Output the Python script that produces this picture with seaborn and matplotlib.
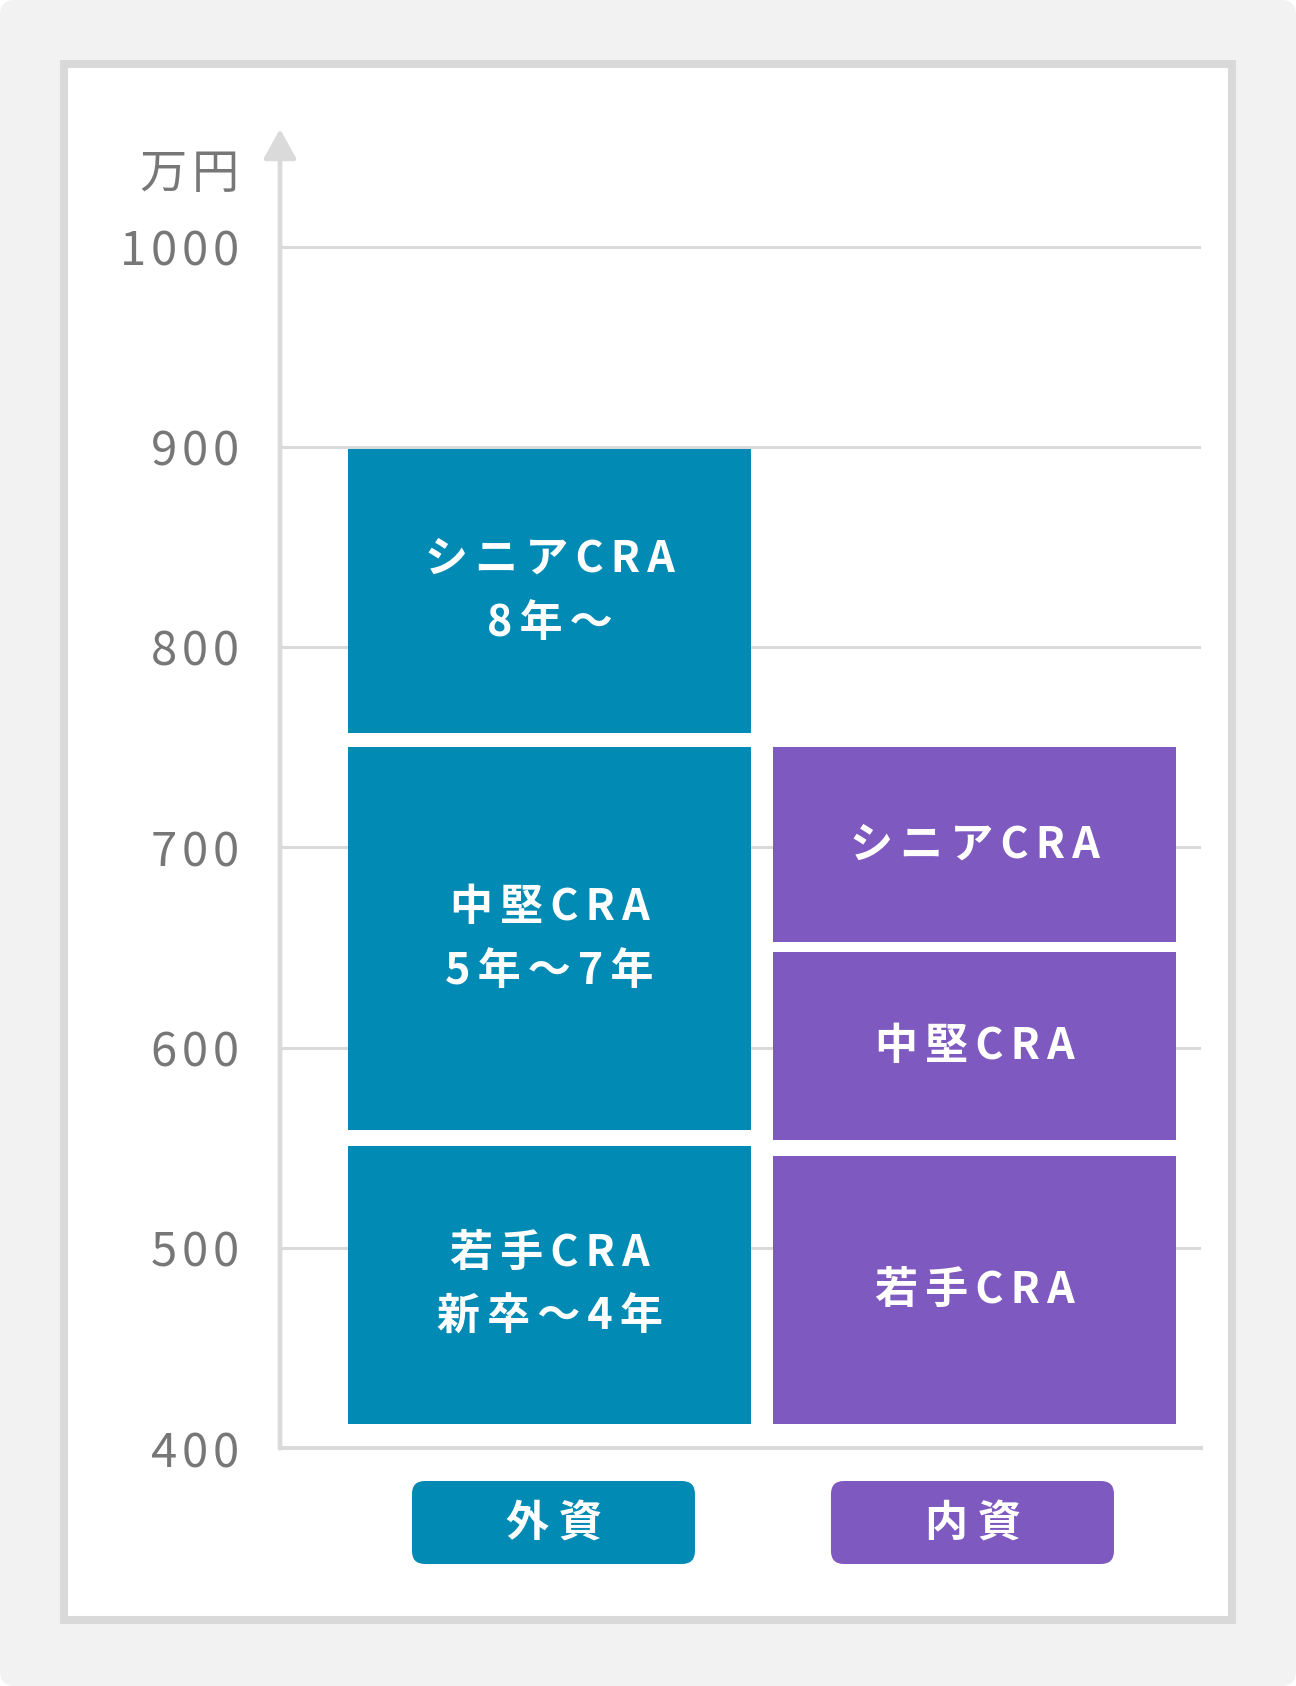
import matplotlib
matplotlib.use("Agg")
import matplotlib.pyplot as plt
import seaborn as sns
from matplotlib.patches import FancyBboxPatch, Rectangle

# データ (万円)
groups = ['外資', '内資']
gaishi_low = [412, 559, 757]
gaishi_high = [551, 750, 899]
gaishi_labels = ['若手CRA\n新卒〜4年', '中堅CRA\n5年〜7年', 'シニアCRA\n8年〜']
naishi_low = [412, 554, 653]
naishi_high = [546, 648, 750]
naishi_labels = ['若手CRA', '中堅CRA', 'シニアCRA']
yticks = [400, 500, 600, 700, 800, 900, 1000]
unit_label = '万円'

TEAL = '#018bb4'
PURPLE = '#7e59c0'
GRID = '#dadada'
TICK = '#777777'

sns.set_style("white")
plt.rcParams['font.family'] = ['Noto Sans CJK JP', 'DejaVu Sans']


def spaced(s, sp='\u2006'):
    # 字間を少し広げる (CJKフォントに無い空白は DejaVu Sans で描かれる)
    return '\n'.join(sp.join(line) for line in s.split('\n'))


W, H = 1296, 1686
fig = plt.figure(figsize=(W / 100, H / 100), dpi=100)
fig.patch.set_facecolor('white')

# 背景とパネル (ピクセル単位 -> インチ)
def px(x, y_top):
    return x / 100, (H - y_top) / 100

fig.add_artist(FancyBboxPatch((0, 0), W / 100, H / 100,
                              boxstyle='round,pad=0,rounding_size=0.15',
                              transform=fig.dpi_scale_trans,
                              fc='#f2f2f2', ec='none', zorder=-10))
x0, y0 = px(64, 1620)
fig.add_artist(Rectangle((x0, y0), (1232 - 64) / 100, (1620 - 64) / 100,
                         transform=fig.dpi_scale_trans,
                         fc='white', ec='#d9d9d9', lw=5.8, zorder=-9))

# 軸の配置
ymax = 1003
ppu = 2.003  # px per 万円
ax_bottom = 1448.3
ax_top = ax_bottom - (ymax - 400) * ppu
ax = fig.add_axes([280 / W, (H - ax_bottom) / H, 921 / W, (ax_bottom - ax_top) / H])
ax.set_facecolor('none')

for grp, lows, highs, color in [(groups[0], gaishi_low, gaishi_high, TEAL),
                                (groups[1], naishi_low, naishi_high, PURPLE)]:
    for lo, hi in zip(lows, highs):
        sns.barplot(x=[grp], y=[hi - lo], bottom=lo, order=groups, color=color,
                    saturation=1, width=0.95, errorbar=None, linewidth=0,
                    ax=ax, zorder=3)

for i, (lows, highs, labels) in enumerate([(gaishi_low, gaishi_high, gaishi_labels),
                                           (naishi_low, naishi_high, naishi_labels)]):
    for lo, hi, lab in zip(lows, highs, labels):
        ax.text(i, (lo + hi) / 2, spaced(lab), ha='center', va='center', color='white',
                fontsize=31, fontweight='bold', linespacing=1.57, zorder=4)

ax.set_xlim(-0.634, 1.533)
ax.set_ylim(400, ymax)
ax.set_yticks(yticks)
ax.set_yticklabels([spaced(str(v), '\u200a') for v in yticks])
ax.tick_params(axis='y', length=0, pad=29.5, labelsize=34, labelcolor=TICK)
ax.set_xticks([])
ax.set_xlabel('')
ax.set_ylabel('')
ax.yaxis.grid(True, color=GRID, lw=2.2)
ax.set_axisbelow(True)
for s in ['top', 'right', 'left']:
    ax.spines[s].set_visible(False)
ax.spines['bottom'].set_color(GRID)
ax.spines['bottom'].set_linewidth(2.9)

# 縦軸の矢印
tip = 400 + (ax_bottom - 129) / ppu
ax.annotate('', xy=(0, tip), xytext=(0, 400), xycoords=ax.get_yaxis_transform(),
            textcoords=ax.get_yaxis_transform(),
            arrowprops=dict(arrowstyle='-|>,head_length=1.8,head_width=1.0',
                            mutation_scale=10, color=GRID, lw=3.4,
                            shrinkA=0, shrinkB=0), annotation_clip=False)

ax.text(-41 / 921, 400 + (ax_bottom - 175) / ppu, spaced(unit_label, '\u200a'),
        transform=ax.get_yaxis_transform(), ha='right', va='center',
        fontsize=34, color=TICK)

# カテゴリラベル (角丸ボックス)
colors = [TEAL, PURPLE]
for i, grp in enumerate(groups):
    cx_disp = ax.transData.transform((i, 400))[0]
    cx = cx_disp + (4 if i == 0 else -2)
    bw, bh = 283, 83
    bx, by = px(cx - bw / 2, 1564)
    fig.add_artist(FancyBboxPatch((bx, by), bw / 100, bh / 100,
                                  boxstyle='round,pad=0,rounding_size=0.13',
                                  transform=fig.dpi_scale_trans,
                                  fc=colors[i], ec='none'))
    tx, ty = px(cx, 1522.5)
    fig.text(tx, ty, ' '.join(grp), transform=fig.dpi_scale_trans, ha='center', va='center',
             color='white', fontsize=31, fontweight='bold')

fig.savefig('out.png', dpi=100)
